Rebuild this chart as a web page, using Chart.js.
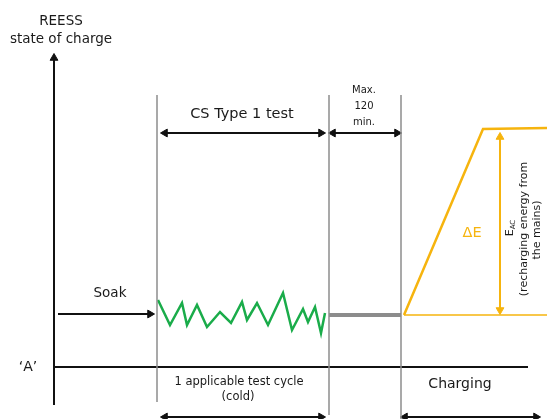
<!DOCTYPE html>
<html>
<head>
<meta charset="utf-8">
<script src="https://cdn.jsdelivr.net/npm/chart.js@4"></script>
<style>
  body { margin: 0; background: #fff; }
  #wrap { width: 547px; height: 419px; }
</style>
</head>
<body>
<div id="wrap"><canvas id="myChart" width="547" height="419"></canvas></div>
<script>
// time runs left to right, state of charge runs bottom to top
const axisTime = [54, 54]
const axisSoc = [14, 361]
const levelATime = [54, 528]
const levelASoc = [52, 52]

const boundaryTimes = [157, 329, 401]
const boundaryBottoms = [17, 4, 0]
const boundaryTop = 324

const soakTime = [58, 150]
const soakSoc = [105, 105]

const cycleTime = [158, 170, 182, 187, 197, 207, 220, 231, 242, 247, 257, 268, 283, 292, 303, 308, 315, 321, 325]
const cycleSoc = [119, 94, 116, 94, 114, 92, 107, 96, 117, 99, 116, 94, 126, 89, 110, 97, 112, 86, 106]

const waitTime = [329, 401]
const waitSoc = [104, 104]

const chargeTime = [404, 483, 547]
const chargeSoc = [104, 290, 291]
const startLevelTime = [404, 547]
const startLevelSoc = [104, 104]

const deltaTime = [500, 500]
const deltaSoc = [109, 282]

const csSpan = [165, 321]
const maxSpan = [333, 397]
const spanSoc = 286
const cycleSpan = [165, 321]
const chargingSpan = [405, 536]
const bottomSoc = 2

const black = '#111111'
const grey = '#8c8c8c'
const green = '#1aac4a'
const orange = '#f6b40e'
const fontFamily = '"DejaVu Sans", "Liberation Sans", Arial, sans-serif'

function series(xs, ys) {
    return xs.map((x, i) => ({ x: x, y: ys[i] }))
}

function lineSet(xs, ys, color, width, headStart, headEnd) {
    const n = xs.length
    const radius = xs.map((_, i) => {
        if (i === 0 && headStart !== null) return 4.5
        if (i === n - 1 && headEnd !== null) return 4.5
        return 0
    })
    const rotation = xs.map((_, i) => i === 0 ? (headStart || 0) : (headEnd || 0))
    return {
        data: series(xs, ys),
        showLine: true,
        borderColor: color,
        borderWidth: width,
        pointStyle: 'triangle',
        pointRadius: radius,
        pointHoverRadius: radius,
        pointRotation: rotation,
        pointBackgroundColor: color,
        pointBorderColor: color,
        pointBorderWidth: 1,
        borderJoinStyle: 'miter',
        tension: 0
    }
}

const datasets = [
    lineSet(axisTime, axisSoc, black, 2, null, 0),
    lineSet(levelATime, levelASoc, black, 2, null, null),
    lineSet(soakTime, soakSoc, black, 2, null, 90),
    lineSet(cycleTime, cycleSoc, green, 2.5, null, null),
    lineSet(waitTime, waitSoc, grey, 4, null, null),
    lineSet(startLevelTime, startLevelSoc, orange, 1.5, null, null),
    lineSet(chargeTime, chargeSoc, orange, 2.5, null, null),
    lineSet(deltaTime, deltaSoc, orange, 2, 180, 0),
    lineSet(csSpan, [spanSoc, spanSoc], black, 2, 270, 90),
    lineSet(maxSpan, [spanSoc, spanSoc], black, 2, 270, 90),
    lineSet(cycleSpan, [bottomSoc, bottomSoc], black, 2, 270, 90),
    lineSet(chargingSpan, [bottomSoc, bottomSoc], black, 2, 270, 90)
]
boundaryTimes.forEach((t, i) => {
    datasets.unshift(lineSet([t, t], [boundaryBottoms[i], boundaryTop], grey, 1.5, null, null))
})

const labels = [
    { text: 'REESS', x: 61, y: 398, size: 13.5 },
    { text: 'state of charge', x: 61, y: 380, size: 13.5 },
    { text: '\u2018A\u2019', x: 28, y: 52, size: 14 },
    { text: 'Soak', x: 110, y: 126, size: 13.5 },
    { text: 'CS Type 1 test', x: 242, y: 305, size: 14.5 },
    { text: 'Max.', x: 364, y: 329, size: 10 },
    { text: '120', x: 364, y: 313, size: 10 },
    { text: 'min.', x: 364, y: 297, size: 10 },
    { text: '1 applicable test cycle', x: 239, y: 37, size: 11.5 },
    { text: '(cold)', x: 238, y: 22, size: 11.5 },
    { text: 'Charging', x: 460, y: 35, size: 14 },
    { text: '\u0394E', x: 472, y: 186, size: 14.5, color: orange },
    { text: '(recharging energy from', x: 524, y: 190, size: 11, rotate: true },
    { text: 'the mains)', x: 537, y: 189, size: 11, rotate: true }
]

const textPlugin = {
    id: 'texts',
    afterDatasetsDraw(chart) {
        const ctx = chart.ctx
        const xs = chart.scales.x
        const ys = chart.scales.y
        ctx.save()
        ctx.textAlign = 'center'
        ctx.textBaseline = 'middle'
        labels.forEach(l => {
            const px = xs.getPixelForValue(l.x)
            const py = ys.getPixelForValue(l.y)
            ctx.font = `${l.size}px ${fontFamily}`
            ctx.fillStyle = l.color || '#1a1a1a'
            ctx.save()
            ctx.translate(px, py)
            if (l.rotate) ctx.rotate(-Math.PI / 2)
            ctx.fillText(l.text, 0, 0)
            ctx.restore()
        })
        // E with subscript AC, rotated
        const ex = xs.getPixelForValue(510)
        const ey = ys.getPixelForValue(191)
        ctx.save()
        ctx.translate(ex, ey)
        ctx.rotate(-Math.PI / 2)
        ctx.fillStyle = '#1a1a1a'
        ctx.font = `11px ${fontFamily}`
        const wE = ctx.measureText('E').width
        ctx.font = `7px ${fontFamily}`
        const wAC = ctx.measureText('AC').width
        const start = -(wE + wAC) / 2
        ctx.textAlign = 'left'
        ctx.font = `11px ${fontFamily}`
        ctx.fillText('E', start, 0)
        ctx.font = `7px ${fontFamily}`
        ctx.fillText('AC', start + wE, 3)
        ctx.restore()
        ctx.restore()
    }
}

new Chart(document.getElementById('myChart').getContext('2d'), {
    type: 'scatter',
    data: { datasets: datasets },
    options: {
        responsive: false,
        devicePixelRatio: 1,
        animation: false,
        clip: false,
        layout: { padding: 0, autoPadding: false },
        plugins: {
            legend: { display: false },
            tooltip: { enabled: false }
        },
        scales: {
            x: { type: 'linear', min: 0, max: 547, display: false },
            y: { type: 'linear', min: 0, max: 419, display: false }
        }
    },
    plugins: [textPlugin]
})
</script>
</body>
</html>
